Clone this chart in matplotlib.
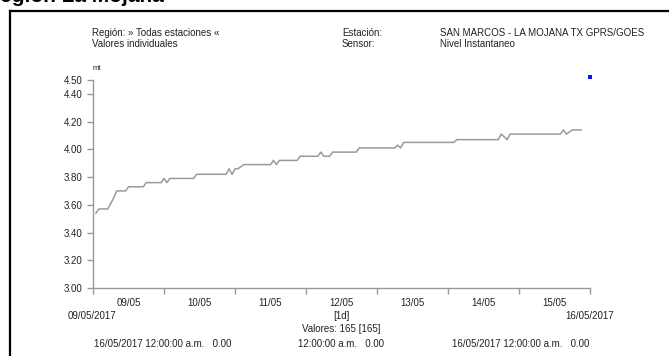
import numpy as np
import pandas as pd
import matplotlib
matplotlib.use("Agg")
import matplotlib.pyplot as plt
import matplotlib.dates as mdates
from matplotlib.lines import Line2D

# hours after 09/05/2017 00:00 where the level changes
hours = [1, 2, 5, 7, 8, 11, 12, 17, 18, 23, 24, 25, 26, 34, 35, 45, 46, 47, 48, 49,
         51, 60, 61, 62, 63, 69, 70, 76, 77, 78, 80, 81, 89, 90, 102, 103, 104, 105,
         122, 123, 137, 138, 140, 141, 158, 159, 160, 162, 165]
levels = [3.54, 3.57, 3.57, 3.65, 3.70, 3.70, 3.73, 3.73, 3.76, 3.76, 3.79, 3.76, 3.79,
          3.79, 3.82, 3.82, 3.86, 3.82, 3.86, 3.86, 3.89, 3.89, 3.92, 3.89, 3.92, 3.92,
          3.95, 3.95, 3.98, 3.95, 3.95, 3.98, 3.98, 4.01, 4.01, 4.03, 4.01, 4.05, 4.05,
          4.07, 4.07, 4.11, 4.07, 4.11, 4.11, 4.14, 4.11, 4.14, 4.14]
last_hour = 168
last_level = 4.52
n_values = 165

yticks = [3.00, 3.20, 3.40, 3.60, 3.80, 4.00, 4.20, 4.40, 4.50]
start = pd.Timestamp("2017-05-09")
end = pd.Timestamp("2017-05-16")

W, H = 669, 356
plt.rcParams["font.family"] = ["Liberation Sans", "DejaVu Sans"]

fig = plt.figure(figsize=(W / 100, H / 100), dpi=100)

def fx(x):
    return x / W

def fy(y):
    return 1 - y / H

# axes box in pixels: x 93..590, y 80..288
ax = fig.add_axes([fx(93), fy(288), fx(590) - fx(93), fy(80) - fy(288)])

times = start + pd.to_timedelta(hours, unit="h")
ax.plot(times, levels, color="#9a9a9a", lw=1.1)
ax.plot([start + pd.Timedelta(hours=last_hour)], [last_level], "s", color="#1010ff",
        ms=2.6, mew=0, clip_on=False)

ax.set_xlim(start, end)
ax.set_ylim(3.0, 4.5)
ax.set_yticks(yticks)
ax.set_yticklabels(["%.2f" % v for v in yticks])

ax.xaxis.set_major_locator(mdates.DayLocator())
ax.xaxis.set_major_formatter(plt.NullFormatter())
ax.xaxis.set_minor_locator(mdates.HourLocator(byhour=[12]))
ax.xaxis.set_minor_formatter(mdates.DateFormatter("%d/%m"))

for s in ["top", "right"]:
    ax.spines[s].set_visible(False)
for s in ["left", "bottom"]:
    ax.spines[s].set_color("#999999")
    ax.spines[s].set_linewidth(1.0)

ax.tick_params(axis="y", which="major", length=4, color="#999999", width=1.0,
               labelsize=7, labelcolor="#222222", pad=3.5)
ax.tick_params(axis="x", which="major", length=4, color="#999999", width=1.0)
ax.tick_params(axis="x", which="minor", length=0, labelsize=7, labelcolor="#222222", pad=7.5)

# frame of the report
fig.add_artist(Line2D([fx(10), fx(10)], [fy(11), fy(H + 5)], color="black", lw=1.6,
                      transform=fig.transFigure))
fig.add_artist(Line2D([fx(10), fx(W + 5)], [fy(10.5), fy(10.5)], color="black", lw=1.6,
                      transform=fig.transFigure))

# cropped title at the very top
fig.text(fx(-15), fy(1.5), "Región La Mojana", fontsize=15, fontweight="bold",
         va="baseline", ha="left", color="black")

txt = dict(fontsize=7, color="#222222", va="center")
fig.text(fx(92), fy(33), "Región: » Todas estaciones «", ha="left", **txt)
fig.text(fx(92), fy(44), "Valores individuales", ha="left", **txt)
fig.text(fx(342), fy(33), "Estación:", ha="left", **txt)
fig.text(fx(342), fy(44), "Sensor:", ha="left", **txt)
fig.text(fx(440), fy(33), "SAN MARCOS - LA MOJANA TX GPRS/GOES", ha="left", **txt)
fig.text(fx(440), fy(44), "Nivel Instantaneo", ha="left", **txt)
fig.text(fx(93), fy(68), "mt", ha="left", fontsize=5.5, color="#222222", va="center")

fig.text(fx(92), fy(316), start.strftime("%d/%m/%Y"), ha="center", **txt)
fig.text(fx(589.5), fy(316), end.strftime("%d/%m/%Y"), ha="center", **txt)
fig.text(fx(341), fy(316), "[1d]", ha="center", **txt)
fig.text(fx(341), fy(329), "Valores: %d [%d]" % (n_values, n_values), ha="center", **txt)
fig.text(fx(94), fy(344), "16/05/2017 12:00:00 a.m.   0.00", ha="left", **txt)
fig.text(fx(341), fy(344), "12:00:00 a.m.   0.00", ha="center", **txt)
fig.text(fx(589), fy(344), "16/05/2017 12:00:00 a.m.   0.00", ha="right", **txt)

fig.savefig("out.png", dpi=100)
